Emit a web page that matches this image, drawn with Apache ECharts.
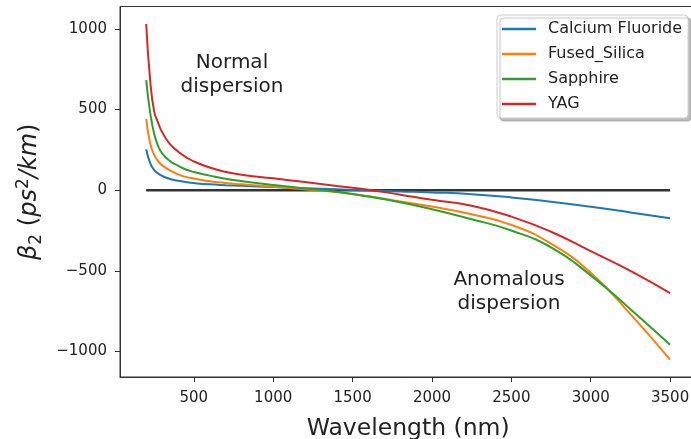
<!DOCTYPE html>
<html>
<head>
<meta charset="utf-8">
<title>GVD of crystals</title>
<script src="https://cdn.jsdelivr.net/npm/echarts@6/dist/echarts.min.js"></script>
<style>
  html, body { margin: 0; padding: 0; background: #fff; }
  #chart { width: 691px; height: 439px; }
</style>
</head>
<body>
<div id="chart"></div>
<script>
// wavelength (nm) and beta2 (ps^2/km)
const wavelengths = [200, 225, 250, 275, 300, 350, 400, 450, 500, 600, 700, 800, 1000, 1200, 1400, 1600, 1800, 2000, 2250, 2500, 2750, 3000, 3250, 3500]
const calciumFluoride = [253, 168, 125, 103, 88, 69, 58, 50, 44, 36, 31, 27, 19, 12, 5, -2, -8, -14, -25, -45, -72, -103, -138, -174]
const fusedSilica = [441, 290, 220, 180, 155, 122, 98, 82, 72, 55, 44, 36, 21, 6, -12, -38, -70, -102, -150, -215, -332, -512, -768, -1051]
const sapphire = [682, 480, 350, 275, 228, 180, 152, 128, 112, 90, 70, 56, 32, 11, -10, -40, -75, -118, -180, -250, -355, -528, -738, -958]
const yag = [1030, 680, 490, 418, 360, 285, 240, 205, 178, 140, 113, 95, 73, 50, 26, 3, -28, -60, -97, -164, -258, -378, -500, -638]

// horizontal zero line
const zeroLineX = [200, 3500]
const zeroLineY = [0, 0]

const xTicks = [500, 1000, 1500, 2000, 2500, 3000, 3500]
const yTicks = [-1000, -500, 0, 500, 1000]

const seriesNames = ['Calcium Fluoride', 'Fused_Silica', 'Sapphire', 'YAG']
const seriesColors = ['#1f77b4', '#ff7f0e', '#2ca02c', '#d62728']
const seriesValues = [calciumFluoride, fusedSilica, sapphire, yag]

const chart = echarts.init(document.getElementById('chart'))

const pairs = (xs, ys) => xs.map((x, i) => [x, ys[i]])
const minus = (v) => String(v).replace('-', '\u2212')
const font = 'DejaVu Sans'

const lineSeries = seriesNames.map((name, i) => {
  return {
    name: name,
    type: 'line',
    data: pairs(wavelengths, seriesValues[i]),
    showSymbol: false,
    symbol: 'none',
    smooth: 0.5,
    lineStyle: { color: seriesColors[i], width: 2 },
    itemStyle: { color: seriesColors[i] },
    z: 3 + i
  }
})

const option = {
  backgroundColor: '#fff',
  animation: false,
  grid: {
    left: 120,
    top: 6.5,
    bottom: 62,
    right: -5.3, // right spine falls just outside the picture
    show: true,
    borderColor: '#333',
    borderWidth: 1,
    containLabel: false,
    outerBoundsMode: 'none'
  },
  xAxis: {
    type: 'value',
    min: 35,
    max: 3665,
    name: 'Wavelength (nm)',
    nameLocation: 'middle',
    nameGap: 40,
    nameTextStyle: { fontFamily: font, fontSize: 23.5, color: '#222' },
    axisLine: { show: true, onZero: false, lineStyle: { color: '#333', width: 1 } },
    axisTick: { show: true, length: 5, lineStyle: { color: '#333' }, customValues: xTicks },
    axisLabel: { fontFamily: font, fontSize: 15, color: '#222', margin: 14, customValues: xTicks, formatter: minus },
    splitLine: { show: false }
  },
  yAxis: {
    type: 'value',
    min: -1158,
    max: 1138,
    name: '{b|β}{sub|2}{r| (}{i|ps}{sup|2}{i|/km}{r|)}',
    nameLocation: 'middle',
    nameRotate: 90,
    nameGap: 75,
    nameTextStyle: {
      fontFamily: font,
      color: '#222',
      rich: {
        b: { fontFamily: font, fontSize: 24, fontStyle: 'italic', color: '#222', lineHeight: 30 },
        i: { fontFamily: font, fontSize: 24, fontStyle: 'italic', color: '#222', lineHeight: 30 },
        r: { fontFamily: font, fontSize: 24, color: '#222', lineHeight: 30 },
        sub: { fontFamily: font, fontSize: 17, color: '#222', lineHeight: 17, verticalAlign: 'bottom' },
        sup: { fontFamily: font, fontSize: 17, color: '#222', lineHeight: 17, verticalAlign: 'top' }
      }
    },
    axisLine: { show: true, onZero: false, lineStyle: { color: '#333', width: 1 } },
    axisTick: { show: true, length: 5, lineStyle: { color: '#333' }, customValues: yTicks },
    axisLabel: { fontFamily: font, fontSize: 15, color: '#222', margin: 13, customValues: yTicks, formatter: minus },
    splitLine: { show: false }
  },
  legend: {
    data: seriesNames,
    orient: 'vertical',
    left: 497,
    top: 15,
    padding: [6, 6, 6, 5],
    itemGap: 9,
    itemWidth: 34,
    itemHeight: 2.5,
    icon: 'rect',
    backgroundColor: '#fff',
    borderColor: '#cccccc',
    borderWidth: 1,
    borderRadius: 4,
    shadowColor: 'rgba(0,0,0,0.25)',
    shadowOffsetX: 3,
    shadowOffsetY: 3,
    shadowBlur: 1,
    textStyle: { fontFamily: font, fontSize: 16, color: '#222', lineHeight: 16, padding: [0, 0, 0, 7] }
  },
  graphic: [
    {
      type: 'text',
      x: 232,
      y: 51,
      style: {
        text: 'Normal\ndispersion',
        fontFamily: font,
        fontSize: 20,
        lineHeight: 24,
        fill: '#222',
        align: 'center',
        verticalAlign: 'top'
      }
    },
    {
      type: 'text',
      x: 509,
      y: 268,
      style: {
        text: 'Anomalous\ndispersion',
        fontFamily: font,
        fontSize: 20,
        lineHeight: 24,
        fill: '#222',
        align: 'center',
        verticalAlign: 'top'
      }
    }
  ],
  series: [
    {
      name: 'zero',
      type: 'line',
      data: pairs(zeroLineX, zeroLineY),
      symbol: 'none',
      lineStyle: { color: '#333', width: 2.5 },
      itemStyle: { color: '#333' },
      z: 2
    }
  ].concat(lineSeries)
}

chart.setOption(option)
</script>
</body>
</html>
